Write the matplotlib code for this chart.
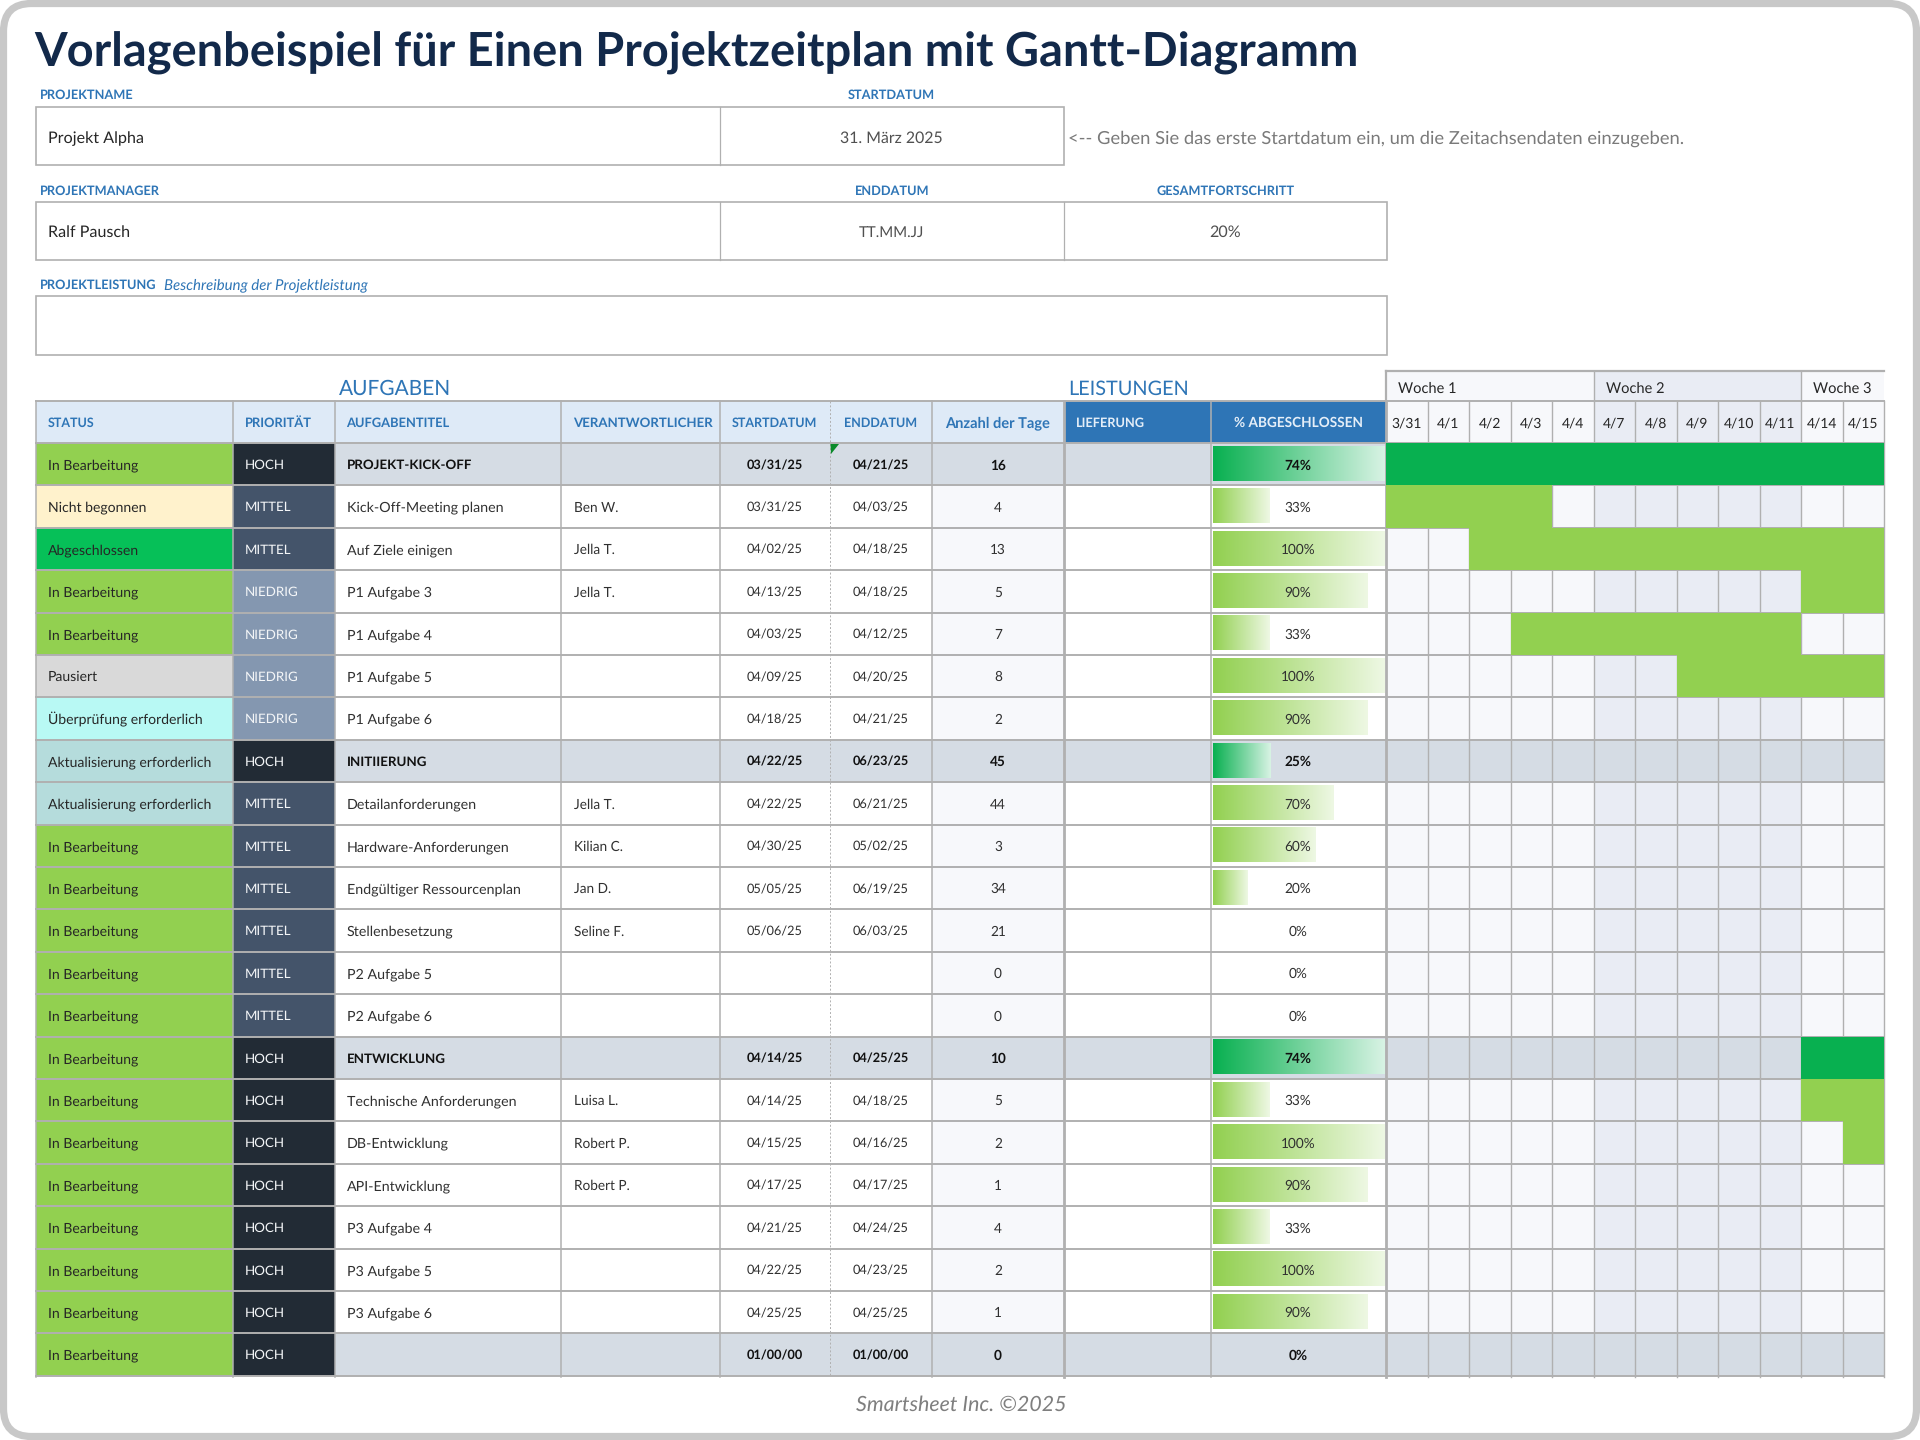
import datetime as dt

import matplotlib.pyplot as plt
import numpy as np
from matplotlib.colors import LinearSegmentedColormap
from matplotlib.patches import FancyBboxPatch, Polygon, Rectangle

plt.rcParams['font.family'] = ['Lato', 'DejaVu Sans']
plt.rcParams['text.hinting'] = 'no_hinting'

TITLE = "Vorlagenbeispiel für Einen Projektzeitplan mit Gantt-Diagramm"
HEADERS = ["STATUS", "PRIORITÄT", "AUFGABENTITEL", "VERANTWORTLICHER", "STARTDATUM",
           "ENDDATUM", "Anzahl der Tage", "LIEFERUNG", "% ABGESCHLOSSEN"]
WEEKS = ["Woche 1", "Woche 2", "Woche 3"]
DAY_LABELS = ["3/31", "4/1", "4/2", "4/3", "4/4", "4/7", "4/8", "4/9", "4/10", "4/11", "4/14", "4/15"]
DAY_DATES = ["03/31/25", "04/01/25", "04/02/25", "04/03/25", "04/04/25", "04/07/25",
             "04/08/25", "04/09/25", "04/10/25", "04/11/25", "04/14/25", "04/15/25"]

IB = "In Bearbeitung"
AE = "Aktualisierung erforderlich"
status = [IB, "Nicht begonnen", "Abgeschlossen", IB, IB, "Pausiert", "Überprüfung erforderlich",
          AE, AE, IB, IB, IB, IB, IB, IB, IB, IB, IB, IB, IB, IB, IB]
priority = ["HOCH", "MITTEL", "MITTEL", "NIEDRIG", "NIEDRIG", "NIEDRIG", "NIEDRIG",
            "HOCH", "MITTEL", "MITTEL", "MITTEL", "MITTEL", "MITTEL", "MITTEL",
            "HOCH", "HOCH", "HOCH", "HOCH", "HOCH", "HOCH", "HOCH", "HOCH"]
titles = ["PROJEKT-KICK-OFF", "Kick-Off-Meeting planen", "Auf Ziele einigen", "P1 Aufgabe 3",
          "P1 Aufgabe 4", "P1 Aufgabe 5", "P1 Aufgabe 6", "INITIIERUNG", "Detailanforderungen",
          "Hardware-Anforderungen", "Endgültiger Ressourcenplan", "Stellenbesetzung",
          "P2 Aufgabe 5", "P2 Aufgabe 6", "ENTWICKLUNG", "Technische Anforderungen",
          "DB-Entwicklung", "API-Entwicklung", "P3 Aufgabe 4", "P3 Aufgabe 5", "P3 Aufgabe 6", ""]
owners = ["", "Ben W.", "Jella T.", "Jella T.", "", "", "", "", "Jella T.", "Kilian C.", "Jan D.",
          "Seline F.", "", "", "", "Luisa L.", "Robert P.", "Robert P.", "", "", "", ""]
starts = ["03/31/25", "03/31/25", "04/02/25", "04/13/25", "04/03/25", "04/09/25", "04/18/25",
          "04/22/25", "04/22/25", "04/30/25", "05/05/25", "05/06/25", "", "",
          "04/14/25", "04/14/25", "04/15/25", "04/17/25", "04/21/25", "04/22/25", "04/25/25", "01/00/00"]
ends = ["04/21/25", "04/03/25", "04/18/25", "04/18/25", "04/12/25", "04/20/25", "04/21/25",
        "06/23/25", "06/21/25", "05/02/25", "06/19/25", "06/03/25", "", "",
        "04/25/25", "04/18/25", "04/16/25", "04/17/25", "04/24/25", "04/23/25", "04/25/25", "01/00/00"]
days = [16, 4, 13, 5, 7, 8, 2, 45, 44, 3, 34, 21, 0, 0, 10, 5, 2, 1, 4, 2, 1, 0]
percent = [74, 33, 100, 90, 33, 100, 90, 25, 70, 60, 20, 0, 0, 0, 74, 33, 100, 90, 33, 100, 90, 0]
section_rows = [0, 7, 14, 21]

STATUS_COLORS = {IB: '#92d050', "Nicht begonnen": '#fff2cc', "Abgeschlossen": '#06c058',
                 "Pausiert": '#d9d9d9', "Überprüfung erforderlich": '#b8f9f4', AE: '#b5dcdc'}
PRIO_COLORS = {"HOCH": '#222b35', "MITTEL": '#44546a', "NIEDRIG": '#8497b0'}
BLUE = '#2e75b6'
NAVY = '#12294a'
GRID = '#b0b0b0'
SECTION = '#d5dce4'
DARK_GREEN = '#08b050'
LIGHT_GREEN = '#92d050'
LIGHT_CELL = '#f7f8fb'
SHADE_CELL = '#e9ecf4'

# column edges in pixels
COL_X = [36, 232.5, 334.5, 561, 719.5, 830, 932, 1064, 1210.5, 1386]
HEADER_SIZES = [9.0, 9.3, 9.3, 9.5, 9.0, 9.0, 10.5, 9.2, 9.8]
GANTT_W = 41.5
HEAD_TOP, HEAD_BOT = 401, 443
ROW_H = 42.4


def parse(s):
    try:
        return dt.datetime.strptime(s, "%m/%d/%y").date()
    except ValueError:
        return None


def label(ax, x, y, s, size=10.2, color='#262626', ha='left', weight='normal', style='normal'):
    ax.text(x, y, s, fontsize=size, color=color, ha=ha, va='center_baseline',
            fontweight=weight, fontstyle=style, zorder=3)


def rect(ax, x0, y0, x1, y1, color, z=1):
    ax.add_patch(Rectangle((x0, y0), x1 - x0, y1 - y0, facecolor=color, edgecolor='none', zorder=z))


def draw_top(ax):
    ax.text(34, 49.5, TITLE, fontsize=33.8, color=NAVY, fontweight='bold', va='center_baseline')
    boxes = [(107, 165, 1064, [719.5]), (201.5, 260, 1387, [719.5, 1064]), (296, 355, 1387, [])]
    for y0, y1, x1, divs in boxes:
        ax.add_patch(Rectangle((36, y0), x1 - 36, y1 - y0, facecolor='white', edgecolor=GRID, lw=1.2))
        for d in divs:
            ax.plot([d, d], [y0, y1], color=GRID, lw=0.9)
    for x, y, s, ha in [(40, 94.5, "PROJEKTNAME", 'left'), (891.5, 94.5, "STARTDATUM", 'center'),
                        (40, 190.5, "PROJEKTMANAGER", 'left'), (892.5, 190.5, "ENDDATUM", 'center'),
                        (1226, 190.5, "GESAMTFORTSCHRITT", 'center'), (40, 284, "PROJEKTLEISTUNG", 'left')]:
        label(ax, x, y, s, size=9.2, color=BLUE, ha=ha, weight='bold')
    label(ax, 164, 284, "Beschreibung der Projektleistung", size=10.8, color=BLUE, style='italic')
    label(ax, 48, 137, "Projekt Alpha", size=11.6)
    label(ax, 891, 137, "31. März 2025", size=11.4, color='#505050', ha='center')
    label(ax, 1068, 137, "<-- Geben Sie das erste Startdatum ein, um die Zeitachsendaten einzugeben.",
          size=13.2, color='#7a7a7a')
    label(ax, 48, 231, "Ralf Pausch", size=11.6)
    label(ax, 891, 231, "TT.MM.JJ", size=10.8, color='#505050', ha='center')
    label(ax, 1225, 231, "20%", size=11.6, color='#505050', ha='center')
    label(ax, 338.5, 387, "AUFGABEN", size=15, color=BLUE)
    label(ax, 1068, 387, "LEISTUNGEN", size=14.3, color=BLUE)


def draw_header(ax):
    for i, h in enumerate(HEADERS):
        dark = i >= 7
        rect(ax, COL_X[i], HEAD_TOP, COL_X[i + 1], HEAD_BOT, BLUE if dark else '#deeaf7')
        color = '#e4eef8' if dark else BLUE
        if i in (4, 5, 6, 8):
            label(ax, (COL_X[i] + COL_X[i + 1]) / 2, 422, h, size=HEADER_SIZES[i], color=color,
                  ha='center', weight='bold')
        else:
            label(ax, COL_X[i] + 12, 422, h, size=HEADER_SIZES[i], color=color, weight='bold')
    g0 = COL_X[-1]
    for j, s in enumerate(DAY_LABELS):
        shade = SHADE_CELL if 5 <= j < 10 else LIGHT_CELL
        rect(ax, g0 + j * GANTT_W, HEAD_TOP, g0 + (j + 1) * GANTT_W, HEAD_BOT, shade)
        label(ax, g0 + (j + 0.5) * GANTT_W, 422, s, size=10, ha='center')
    for k, s in enumerate(WEEKS):
        x0 = g0 + k * 5 * GANTT_W
        x1 = min(x0 + 5 * GANTT_W, g0 + 12 * GANTT_W)
        rect(ax, x0, 371, x1, HEAD_TOP, SHADE_CELL if k == 1 else LIGHT_CELL)
        label(ax, x0 + 12, 387, s, size=10.5)


def draw_rows(ax):
    g0 = COL_X[-1]
    light_map = LinearSegmentedColormap.from_list('light', [LIGHT_GREEN, '#eef8e4'])
    dark_map = LinearSegmentedColormap.from_list('dark', [DARK_GREEN, '#d8f3e4'])
    ramp = np.linspace(0, 1, 256).reshape(1, -1)
    sec_max = max(percent[r] for r in section_rows)
    for r in range(len(status)):
        y0 = HEAD_BOT + r * ROW_H
        y1 = y0 + ROW_H
        yc = (y0 + y1) / 2
        sec = r in section_rows
        weight = 'bold' if sec else 'normal'
        tcolor = '#111111' if sec else '#303030'
        rect(ax, COL_X[0], y0, COL_X[1], y1, STATUS_COLORS[status[r]])
        rect(ax, COL_X[1], y0, COL_X[2], y1, PRIO_COLORS[priority[r]])
        rect(ax, COL_X[2], y0, COL_X[9], y1, SECTION if sec else 'white')
        if not sec:
            rect(ax, COL_X[6], y0, COL_X[7], y1, LIGHT_CELL)
        label(ax, 48, yc, status[r], size=10.1)
        label(ax, 245, yc, priority[r], size=9.6, color='#f4f6f8')
        label(ax, 347, yc, titles[r], size=9.6 if sec else 10.3, color=tcolor, weight=weight)
        label(ax, 573.5, yc, owners[r], size=9.8, color=tcolor)
        label(ax, 775, yc, starts[r], size=9.2, color=tcolor, ha='center', weight=weight)
        label(ax, 881, yc, ends[r], size=9.2, color=tcolor, ha='center', weight=weight)
        label(ax, 998, yc, str(days[r]), size=9.8, color=tcolor, ha='center', weight=weight)

        # data bar in the % column, section rows scale to their own maximum
        frac = percent[r] / (sec_max if sec else 100)
        if frac > 0:
            ax.imshow(ramp, cmap=dark_map if sec else light_map, aspect='auto', zorder=2,
                      extent=(1213, 1213 + 171.5 * frac, y1 - 4.5, y0 + 3))
        label(ax, 1298, yc, f"{percent[r]}%", size=9.8, color=tcolor, ha='center', weight=weight)

        for j in range(len(DAY_DATES)):
            shade = SHADE_CELL if 5 <= j < 10 else LIGHT_CELL
            rect(ax, g0 + j * GANTT_W, y0, g0 + (j + 1) * GANTT_W, y1, SECTION if sec else shade)


def draw_grid(ax):
    g0 = COL_X[-1]
    n = len(status)
    bottom = HEAD_BOT + n * ROW_H
    right = g0 + 12 * GANTT_W
    for i, x in enumerate(COL_X):
        if i == 5:
            ax.plot([x, x], [HEAD_TOP, bottom + 1.5], color=GRID, lw=0.7, ls=(0, (2, 2)), zorder=4)
        else:
            ax.plot([x, x], [HEAD_TOP, bottom + 1.5], color=GRID, lw=2.0 if i in (7, 9) else 1.1, zorder=4)
    for j in range(1, 13):
        x = g0 + j * GANTT_W
        ax.plot([x, x], [HEAD_TOP, bottom + 1.5], color=GRID, lw=1.0, zorder=4)
    for x in [g0 + 5 * GANTT_W, g0 + 10 * GANTT_W]:
        ax.plot([x, x], [371, HEAD_TOP], color=GRID, lw=1.0, zorder=4)
    ax.plot([g0, g0], [371, HEAD_TOP], color=GRID, lw=1.6, zorder=4)
    ax.plot([g0, right], [371, 371], color=GRID, lw=1.6, zorder=4)
    ax.plot([COL_X[0], right], [HEAD_TOP, HEAD_TOP], color=GRID, lw=1.4, zorder=4)
    for r in range(n + 1):
        y = HEAD_BOT + r * ROW_H
        ax.plot([COL_X[0], right], [y, y], color=GRID, lw=1.4, zorder=4)


def draw_gantt_bars(ax):
    g0 = COL_X[-1]
    cal = [parse(d) for d in DAY_DATES]
    for r in range(len(status)):
        start, end = parse(starts[r]), parse(ends[r])
        if start is None or end is None:
            continue
        hit = [j for j, d in enumerate(cal) if start <= d <= end]
        if not hit:
            continue
        y0 = HEAD_BOT + r * ROW_H
        color = DARK_GREEN if r in section_rows else LIGHT_GREEN
        rect(ax, g0 + hit[0] * GANTT_W, y0, g0 + (hit[-1] + 1) * GANTT_W, y0 + ROW_H, color, z=5)


def main():
    fig, ax = plt.subplots(figsize=(19.2, 14.4), dpi=100)
    ax.set_position([0, 0, 1, 1])
    ax.axis('off')
    draw_top(ax)
    draw_header(ax)
    draw_rows(ax)
    draw_grid(ax)
    draw_gantt_bars(ax)
    ax.add_patch(Polygon([(830.5, 444), (839, 444), (831, 454)], facecolor='#0a8a2a', edgecolor='none', zorder=6))
    label(ax, 961, 1403, "Smartsheet Inc. ©2025", size=15.4, color='#7f7f7f', ha='center', style='italic')
    ax.add_patch(FancyBboxPatch((3.5, 3.5), 1913, 1433, boxstyle='round,pad=0,rounding_size=28',
                                facecolor='none', edgecolor='#c8c8c8', lw=5.2, zorder=7))
    ax.set_xlim(0, 1920)
    ax.set_ylim(1440, 0)
    fig.savefig('out.png', dpi=100)
    plt.close(fig)


if __name__ == '__main__':
    main()
